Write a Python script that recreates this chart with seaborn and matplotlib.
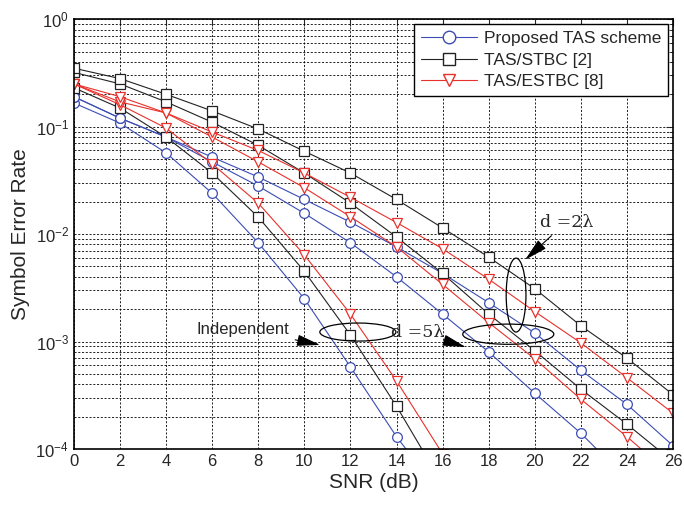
import numpy as np
import pandas as pd
import seaborn as sns
import matplotlib.pyplot as plt
from matplotlib.patches import Ellipse
from matplotlib.lines import Line2D
from matplotlib.ticker import LogLocator, NullLocator

# =========================
# DATA
# =========================
snr = [0, 2, 4, 6, 8, 10, 12, 14, 16, 18, 20, 22, 24, 26]

prop_ind = [0.166, 0.108, 0.057, 0.024, 0.0083, 0.0025, 5.8e-4, 1.3e-4, 3.6e-5]
prop_5l = [0.19, 0.12, 0.08, 0.047, 0.028, 0.0156, 0.0083, 0.004, 0.0018, 8e-4, 3.3e-4, 1.4e-4, 5.2e-5]
prop_2l = [0.19, 0.12, 0.08, 0.052, 0.034, 0.021, 0.0129, 0.0076, 0.0043, 0.0023, 0.0012, 5.4e-4, 2.6e-4, 1.07e-4]

stbc_ind = [0.23, 0.149, 0.08, 0.037, 0.0144, 0.0045, 0.00115, 2.5e-4, 4.7e-5]
stbc_5l = [0.32, 0.25, 0.17, 0.11, 0.067, 0.037, 0.0194, 0.0094, 0.0043, 0.0018, 8.2e-4, 3.6e-4, 1.7e-4, 7.6e-5]
stbc_2l = [0.35, 0.28, 0.2, 0.14, 0.095, 0.059, 0.037, 0.021, 0.0114, 0.0061, 0.0031, 0.0014, 7e-4, 3.2e-4]

estbc_ind = [0.25, 0.16, 0.097, 0.045, 0.0194, 0.0064, 0.0018, 4.3e-4, 9e-5]
estbc_5l = [0.25, 0.17, 0.134, 0.08, 0.047, 0.027, 0.0145, 0.0076, 0.0034, 0.0015, 6.9e-4, 2.9e-4, 1.3e-4, 5.5e-5]
estbc_2l = [0.25, 0.19, 0.134, 0.089, 0.06, 0.037, 0.022, 0.0128, 0.0073, 0.0038, 0.0019, 9.7e-4, 4.6e-4, 2.15e-4]

schemes = ["Proposed TAS scheme", "TAS/STBC [2]", "TAS/ESTBC [8]"]
colors = ["#3b4db4", "#222222", "#e8312b"]
markers = ["o", "s", "v"]
curves = [
    [prop_ind, prop_5l, prop_2l],
    [stbc_ind, stbc_5l, stbc_2l],
    [estbc_ind, estbc_5l, estbc_2l],
]

# =========================
# STYLE
# =========================
sns.set_style("white")
plt.rcParams['font.family'] = ['Liberation Sans', 'DejaVu Sans']
plt.rcParams['mathtext.fontset'] = 'custom'
plt.rcParams['mathtext.rm'] = 'Liberation Sans'
plt.rcParams['mathtext.it'] = 'Liberation Sans:italic'

fig = plt.figure(figsize=(6.84, 5.05), dpi=100)
ax = fig.add_axes([0.108, 0.111, 0.876, 0.851])

for name, col, mk, group in zip(schemes, colors, markers, curves):
    for vals in group:
        df = pd.DataFrame({"snr": snr[:len(vals)], "ser": vals})
        sns.lineplot(data=df, x="snr", y="ser", ax=ax, color=col, lw=0.8,
                     marker=mk, markersize=7, markerfacecolor="white",
                     markeredgecolor=col, markeredgewidth=0.9, legend=False)

ax.set_yscale("log")
ax.set_xlim(0, 26)
ax.set_ylim(1e-4, 1)
ax.set_xticks(snr)
ax.xaxis.set_minor_locator(NullLocator())
ax.yaxis.set_major_locator(LogLocator(base=10, numticks=10))
ax.yaxis.set_minor_locator(LogLocator(base=10, subs=np.arange(2, 10), numticks=20))

ax.grid(True, which="both", color="black", linestyle=(0, (2.5, 2)), linewidth=0.6)
ax.tick_params(which="both", direction="in", top=True, right=True, labelsize=12)
ax.tick_params(which="major", length=5)
ax.tick_params(which="minor", length=3)
for s in ax.spines.values():
    s.set_color("black")
    s.set_linewidth(1.2)

ax.set_xlabel("SNR (dB)", fontsize=15, labelpad=3)
ax.set_ylabel("Symbol Error Rate", fontsize=15, labelpad=4)

# =========================
# LEGEND
# =========================
handles = [Line2D([0], [0], color=c, lw=0.8, marker=m, markersize=9,
                  markerfacecolor="white", markeredgecolor=c)
           for c, m in zip(colors, markers)]
leg = ax.legend(handles, schemes, loc="upper right", bbox_to_anchor=(0.992, 0.988),
                borderaxespad=0, fontsize=12.5, frameon=True, fancybox=False,
                handlelength=3.2, borderpad=0.4, labelspacing=0.35, handletextpad=0.4)
leg.get_frame().set_edgecolor("black")
leg.get_frame().set_linewidth(1.0)
leg.get_frame().set_alpha(1)

# =========================
# ANNOTATIONS
# =========================
ellipses = [(0.474, 0.272, 0.127, 0.042), (0.725, 0.267, 0.152, 0.047), (0.738, 0.358, 0.033, 0.172)]
for cx, cy, w, h in ellipses:
    ax.add_patch(Ellipse((cx, cy), w, h, transform=ax.transAxes, fill=False,
                         edgecolor="black", lw=0.9, zorder=5))

arrow = dict(arrowstyle="-|>,head_length=0.9,head_width=0.22", color="black",
             lw=0.8, mutation_scale=16, shrinkA=2, shrinkB=0)
ax.annotate("Independent", xy=(0.411, 0.242), xytext=(0.282, 0.279),
            xycoords="axes fraction", textcoords="axes fraction",
            ha="center", va="center", fontsize=12, arrowprops=arrow, zorder=6)
ax.annotate("d =5\u03bb", xy=(0.654, 0.237), xytext=(0.574, 0.272),
            xycoords="axes fraction", textcoords="axes fraction",
            ha="center", va="center", fontsize=12.5, family="DejaVu Serif",
            arrowprops=arrow, zorder=6)
ax.annotate("d =2\u03bb", xy=(0.753, 0.440), xytext=(0.822, 0.528),
            xycoords="axes fraction", textcoords="axes fraction",
            ha="center", va="center", fontsize=12.5, family="DejaVu Serif",
            arrowprops=arrow, zorder=6)

plt.savefig("out.png", dpi=100)
